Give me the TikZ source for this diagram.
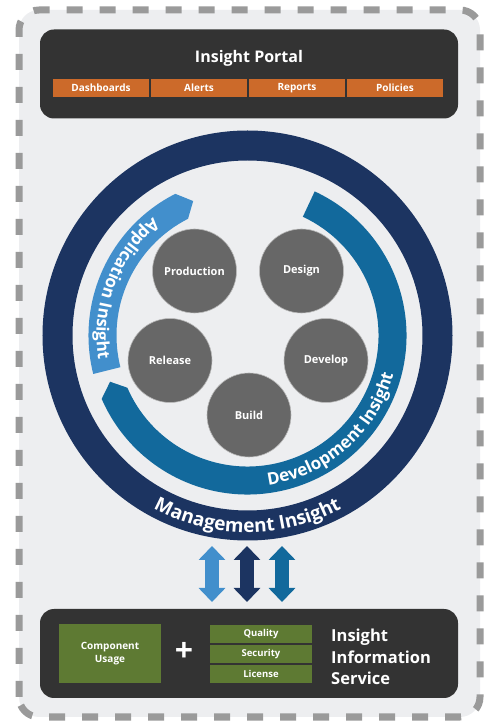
\documentclass[tikz,border=0pt]{standalone}
\usepackage{fontspec}
\setmainfont{Open Sans}
\usetikzlibrary{positioning,calc,arrows.meta,decorations.text}

\definecolor{portalgray}{HTML}{333333}
\definecolor{panelgray}{HTML}{EDEEF0}
\definecolor{dashgray}{HTML}{9A9A9A}
\definecolor{navyring}{HTML}{1C3461}
\definecolor{devblue}{HTML}{12699C}
\definecolor{appblue}{HTML}{428FCC}
\definecolor{stagegray}{HTML}{676767}
\definecolor{taborange}{HTML}{CC6A2A}
\definecolor{infogreen}{HTML}{5E7A33}

\tikzset{
	darkbox/.style={draw=none, fill=portalgray, rounded corners=14pt, minimum width=418pt, minimum height=89pt},
	tabbox/.style={fill=taborange, text=white, minimum width=96pt, minimum height=18pt, inner sep=0pt,
		font=\bfseries\fontsize{10}{10}\selectfont},
	greenbox/.style={fill=infogreen, text=white, minimum width=102pt, minimum height=18pt, inner sep=0pt,
		font=\bfseries\fontsize{9.5}{9.5}\selectfont},
	stagenode/.style={circle, fill=stagegray, draw=gray!55, line width=0.6pt, minimum size=84pt, inner sep=0pt,
		text=white, font=\bfseries\fontsize{11}{11}\selectfont},
	updown/.style={line width=14pt, {Triangle[length=14pt,width=26pt]}-{Triangle[length=14pt,width=26pt]}}
}

\newcommand{\stage}[3][]{
	\node [stagenode] (#1) at ($(hub)+(#2,#3)$) {#1};
}
\newcommand{\portaltab}[2][]{
	\node [tabbox] (#1) at (#2, 633) {#1};
}
\newcommand{\infotab}[2][]{
	\node [greenbox] (#1) at (261, #2) {#1};
}
% radius, start, end, size, text
\newcommand{\arclabel}[5]{
	\path [decorate, decoration={text along path, text align=center, text color=white,
		text={|\bfseries\fontsize{#4}{#4}\selectfont|#5}}]
		($(hub)+(#2:#1)$) arc [start angle=#2, end angle=#3, radius=#1];
}

\begin{document}
\begin{tikzpicture}[x=1pt, y=1pt]
	\useasboundingbox (0,0) rectangle (490,721);
	\fill [white] (0,0) rectangle (490,721);
	\draw [dashgray, fill=panelgray, line width=7pt, dash pattern=on 16pt off 17pt, rounded corners=20pt]
		(19,4) rectangle (480,711);

	% portal
	\node [darkbox] (portal) at (249, 647) {};
	\node [text=white, font=\bfseries\fontsize{16}{16}\selectfont, below=18pt of portal.north] (title) {Insight Portal};
	\portaltab[Dashboards]{101}
	\portaltab[Alerts]{199}
	\portaltab[Reports]{297}
	\portaltab[Policies]{395}

	% insight rings
	\coordinate (hub) at (247.5, 385.5);
	\draw [navyring, line width=30pt] (hub) circle [radius=190];
	\fill [appblue] ($(hub)+(194:159)$) arc [start angle=194, end angle=117, radius=159]
		-- ($(hub)+(112:145)$) -- ($(hub)+(117:131)$) arc [start angle=117, end angle=194, radius=131] -- cycle;
	\fill [devblue] ($(hub)+(65:159)$) arc [start angle=65, end angle=-156.5, radius=159]
		-- ($(hub)+(-161.4:145)$) -- ($(hub)+(-156.5:131)$) arc [start angle=-156.5, end angle=65, radius=131] -- cycle;

	\arclabel{197}{220}{320}{19}{Management Insight}
	\arclabel{151}{256.5}{366.5}{17}{Development Insight}
	\arclabel{151}{105}{213}{17}{Application Insight}

	\stage[Production]{-53}{64.5}
	\stage[Design]{54}{64.5}
	\stage[Release]{-77.5}{-25}
	\stage[Develop]{78.5}{-25}
	\stage[Build]{1.5}{-79.5}

	% info service
	\node [darkbox] (service) at (249, 67.5) {};
	\node [fill=infogreen, text=white, minimum width=102pt, minimum height=59pt, align=center,
		font=\bfseries\fontsize{10}{13.5}\selectfont] (usage) at (110, 67.5) {Component\\Usage};
	\node [text=white, font=\bfseries\fontsize{32}{32}\selectfont, inner sep=0pt] (plus) at (184, 69) {+};
	\infotab[Quality]{87}
	\infotab[Security]{67}
	\infotab[License]{47}
	\node [text=white, anchor=west, align=left, inner sep=0pt,
		font=\bfseries\fontsize{16.5}{21.5}\selectfont] (iis) at (331, 64) {Insight\\Information\\Service};

	\coordinate (lefttop) at (212, 175);
	\coordinate (leftbot) at (212, 119);
	\coordinate (midtop) at (247, 175);
	\coordinate (midbot) at (247, 119);
	\coordinate (righttop) at (282, 175);
	\coordinate (rightbot) at (282, 119);
	\draw [updown, appblue] (leftbot) -- (lefttop);
	\draw [updown, navyring] (midbot) -- (midtop);
	\draw [updown, devblue] (rightbot) -- (righttop);
\end{tikzpicture}
\end{document}
